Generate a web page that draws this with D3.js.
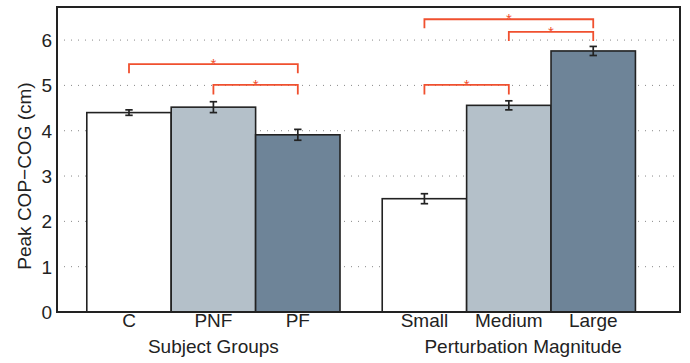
<!DOCTYPE html>
<html>
<head>
<meta charset="utf-8">
<script src="https://cdn.jsdelivr.net/npm/d3@7"></script>
<style>
  body { margin: 0; background: #fff; }
  text { font-family: "Liberation Sans", Arial, sans-serif; fill: #222; }
</style>
</head>
<body>
<svg id="chart" width="690" height="363"></svg>
<script>
// bar data (two groups drawn on one shared axis)
const labels = ["C", "PNF", "PF", "Small", "Medium", "Large"];
const positions = [1, 2, 3, 4.5, 5.5, 6.5];
const values = [4.40, 4.52, 3.91, 2.50, 4.56, 5.76];
const errors = [0.06, 0.12, 0.12, 0.11, 0.10, 0.10];
const fills = ["#ffffff", "#b4c0c9", "#6e8498", "#ffffff", "#b4c0c9", "#6e8498"];

// group titles under the tick labels
const groupTitles = ["Subject Groups", "Perturbation Magnitude"];
const groupTitlePos = [2, 5.67];

// significance brackets: [from, to, bar height, leg bottom]
const brackets = [
  [1, 3, 5.47, 5.27],
  [2, 3, 5.01, 4.80],
  [4.5, 6.5, 6.46, 6.26],
  [5.5, 6.5, 6.18, 5.98],
  [4.5, 5.5, 5.01, 4.80]
];

const yTicks = [0, 1, 2, 3, 4, 5, 6];

const svg = d3.select("#chart");
const margin = { top: 7, right: 10, bottom: 51, left: 57 };
const width = 690 - margin.left - margin.right;
const height = 363 - margin.top - margin.bottom;

const g = svg.append("g")
  .attr("transform", "translate(" + margin.left + "," + margin.top + ")");

const xScale = d3.scaleLinear().domain([0.147, 7.528]).range([0, width]);
const yScale = d3.scaleLinear().domain([0, 6.73]).range([height, 0]);
const barW = xScale(1) - xScale(0);

// dotted grid
g.selectAll(".grid")
  .data(yTicks.filter(d => d > 0))
  .enter()
  .append("line")
  .attr("x1", 0)
  .attr("x2", width)
  .attr("y1", d => yScale(d))
  .attr("y2", d => yScale(d))
  .attr("stroke", "#888")
  .attr("stroke-width", 1)
  .attr("stroke-dasharray", "1,6");

// bars
g.selectAll(".bar")
  .data(values)
  .enter()
  .append("rect")
  .attr("x", (d, i) => xScale(positions[i]) - barW / 2)
  .attr("y", d => yScale(d))
  .attr("width", barW)
  .attr("height", d => height - yScale(d))
  .attr("fill", (d, i) => fills[i])
  .attr("stroke", "#222")
  .attr("stroke-width", 1.6);

// error bars
const eb = g.selectAll(".err")
  .data(values)
  .enter()
  .append("g")
  .attr("stroke", "#222")
  .attr("stroke-width", 1.7);
eb.append("line")
  .attr("x1", (d, i) => xScale(positions[i]))
  .attr("x2", (d, i) => xScale(positions[i]))
  .attr("y1", (d, i) => yScale(d - errors[i]))
  .attr("y2", (d, i) => yScale(d + errors[i]));
[-1, 1].forEach(s => {
  eb.append("line")
    .attr("x1", (d, i) => xScale(positions[i]) - 3.7)
    .attr("x2", (d, i) => xScale(positions[i]) + 3.7)
    .attr("y1", (d, i) => yScale(d + s * errors[i]))
    .attr("y2", (d, i) => yScale(d + s * errors[i]));
});

// significance brackets
const br = g.selectAll(".br")
  .data(brackets)
  .enter()
  .append("g");
br.append("path")
  .attr("d", d => "M" + xScale(d[0]) + "," + yScale(d[3]) +
    "V" + yScale(d[2]) + "H" + xScale(d[1]) + "V" + yScale(d[3]))
  .attr("fill", "none")
  .attr("stroke", "#f0502f")
  .attr("stroke-width", 1.8);
br.append("text")
  .attr("x", d => (xScale(d[0]) + xScale(d[1])) / 2)
  .attr("y", d => yScale(d[2]) + 5)
  .attr("text-anchor", "middle")
  .style("font-size", "15px")
  .style("fill", "#f0502f")
  .text("*");

// y axis labels
g.selectAll(".ylab")
  .data(yTicks)
  .enter()
  .append("text")
  .attr("x", -5)
  .attr("y", d => yScale(d))
  .attr("dy", "0.36em")
  .attr("text-anchor", "end")
  .style("font-size", "19px")
  .text(d => d);

// x tick labels
g.selectAll(".xlab")
  .data(labels)
  .enter()
  .append("text")
  .attr("x", (d, i) => xScale(positions[i]))
  .attr("y", height + 15)
  .attr("text-anchor", "middle")
  .style("font-size", "19px")
  .text(d => d);

// group titles
g.selectAll(".gt")
  .data(groupTitles)
  .enter()
  .append("text")
  .attr("x", (d, i) => xScale(groupTitlePos[i]))
  .attr("y", height + 40.5)
  .attr("text-anchor", "middle")
  .style("font-size", "19px")
  .text(d => d);

// y axis title
svg.append("text")
  .attr("transform", "translate(31,176) rotate(-90)")
  .attr("text-anchor", "middle")
  .style("font-size", "19px")
  .text("Peak COP\u2212COG (cm)");

// frame
g.append("rect")
  .attr("x", 0)
  .attr("y", 0)
  .attr("width", width)
  .attr("height", height)
  .attr("fill", "none")
  .attr("stroke", "#222")
  .attr("stroke-width", 2);
</script>
</body>
</html>
